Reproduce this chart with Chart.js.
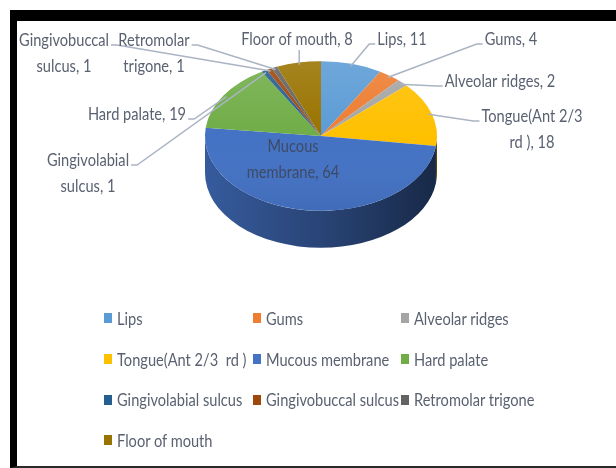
<!DOCTYPE html>
<html>
<head>
<meta charset="utf-8">
<script src="https://cdn.jsdelivr.net/npm/chart.js@4.4.1/dist/chart.umd.min.js"></script>
<style>
  html, body { margin: 0; padding: 0; background: #fff; }
  #wrap { position: relative; width: 616px; height: 468px; overflow: hidden; }
  #frame {
    position: absolute; left: 10px; top: 10px; width: 640px; height: 445px;
    border-left: 7px solid #000; border-top: 11px solid #000; border-bottom: 2px solid #2a2a2a;
  }
  #chart { position: absolute; left: 0; top: 0; }
  #legend {
    position: absolute; left: 104px; top: 298px;
    display: grid; grid-template-columns: 149px 148px 160px; grid-auto-rows: 40.7px;
    font: 17px Lato, sans-serif; color: #5a6170;
  }
  #legend .item { display: flex; align-items: center; white-space: pre; }
  #legend .box { width: 8px; height: 10px; margin-right: 5px; flex: none; }
  #legend .txt { display: inline-block; transform: scaleX(0.86); transform-origin: 0 50%; }
</style>
</head>
<body>
<div id="wrap">
  <div id="frame"></div>
  <canvas id="chart" width="616" height="468"></canvas>
  <div id="legend"></div>
</div>
<script>
var categories = ['Lips', 'Gums', 'Alveolar ridges', 'Tongue(Ant 2/3  rd )', 'Mucous membrane',
  'Hard palate', 'Gingivolabial sulcus', 'Gingivobuccal sulcus', 'Retromolar trigone', 'Floor of mouth'];
var cases = [11, 4, 2, 18, 64, 19, 1, 1, 1, 8];
var sliceColors = ['#5B9BD5', '#ED7D31', '#A5A5A5', '#FFC000', '#4472C4',
  '#70AD47', '#255E91', '#9E480E', '#636363', '#997300'];

// where each data label sits, relative to the pie centre
var labelLayout = [
  { dx: 81, dy: -96, side: 'left' },
  { dx: 190, dy: -96, side: 'left' },
  { dx: 179, dy: -54, side: 'left' },
  { dx: 211, dy: -6, side: 'left', split: 'Tongue(Ant 2/3', text: 'Tongue(Ant 2/3 rd )' },
  { dx: -28, dy: 24, side: 'inside', split: 'Mucous' },
  { dx: -184, dy: -21, side: 'right' },
  { dx: -233, dy: 38, side: 'right', split: 'Gingivolabial' },
  { dx: -257, dy: -82, side: 'right', split: 'Gingivobuccal' },
  { dx: -167, dy: -82, side: 'right', split: 'Retromolar' },
  { dx: -24, dy: -96, side: 'bottom' }
];

var tilt = 0.645, depth = 37;
var font = '17px Lato, sans-serif';
var squeeze = 0.86;

function shade(hex, f) {
  var n = parseInt(hex.slice(1), 16);
  var r = Math.round(((n >> 16) & 255) * f), g = Math.round(((n >> 8) & 255) * f), b = Math.round((n & 255) * f);
  return 'rgb(' + r + ',' + g + ',' + b + ')';
}

var pie3d = {
  id: 'pie3d',
  beforeDatasetsDraw: function(chart) {
    var ctx = chart.ctx, meta = chart.getDatasetMeta(0);
    var cx = meta.data[0].x, cy = meta.data[0].y, R = meta.data[0].outerRadius, ry = R * tilt;
    meta.data.forEach(function(el, i) {
      var a0 = Math.max(el.startAngle, 0), a1 = Math.min(el.endAngle, Math.PI);
      if (a1 <= a0) return;
      var c = chart.data.datasets[0].backgroundColor[i];
      var g = ctx.createLinearGradient(cx - R, 0, cx + R, 0);
      g.addColorStop(0, shade(c, 0.8));
      g.addColorStop(0.5, shade(c, 0.6));
      g.addColorStop(1, shade(c, 0.36));
      ctx.beginPath();
      ctx.ellipse(cx, cy, R, ry, 0, a0, a1);
      ctx.lineTo(cx + R * Math.cos(a1), cy + ry * Math.sin(a1) + depth);
      ctx.ellipse(cx, cy + depth, R, ry, 0, a1, a0, true);
      ctx.closePath();
      ctx.fillStyle = g;
      ctx.fill();
    });
    ctx.save();
    ctx.translate(0, cy);
    ctx.scale(1, tilt);
    ctx.translate(0, -cy);
  },
  afterDatasetsDraw: function(chart) {
    var ctx = chart.ctx, meta = chart.getDatasetMeta(0);
    ctx.restore();
    var cx = meta.data[0].x, cy = meta.data[0].y, R = meta.data[0].outerRadius, ry = R * tilt;
    ctx.save();
    ctx.beginPath();
    ctx.ellipse(cx, cy, R, ry, 0, 0, Math.PI * 2);
    ctx.clip();
    var g = ctx.createLinearGradient(0, cy - ry, 0, cy + ry);
    g.addColorStop(0, 'rgba(255,255,255,0.12)');
    g.addColorStop(0.5, 'rgba(255,255,255,0)');
    g.addColorStop(1, 'rgba(0,0,0,0.06)');
    ctx.fillStyle = g;
    ctx.fillRect(cx - R, cy - ry, 2 * R, 2 * ry);
    ctx.restore();
  },
  afterDraw: function(chart) {
    var ctx = chart.ctx, meta = chart.getDatasetMeta(0);
    var cx = meta.data[0].x, cy = meta.data[0].y, R = meta.data[0].outerRadius, ry = R * tilt;
    var lineH = 26;
    ctx.save();
    ctx.font = font;
    ctx.textAlign = 'center';
    ctx.textBaseline = 'middle';
    meta.data.forEach(function(el, i) {
      var L = labelLayout[i];
      var txt = (L.text || chart.data.labels[i]) + ', ' + chart.data.datasets[0].data[i];
      var lines = [txt];
      if (L.split) lines = [L.split, txt.slice(L.split.length).trim()];
      var lx = cx + L.dx, ly = cy + L.dy;
      var y0 = ly - (lines.length - 1) * lineH / 2;
      var w = squeeze * Math.max.apply(null, lines.map(function(s) { return ctx.measureText(s).width; }));
      if (L.side !== 'inside') {
        var mid = (el.startAngle + el.endAngle) / 2;
        var tx = cx + R * 0.97 * Math.cos(mid), ty = cy + ry * 0.97 * Math.sin(mid);
        ctx.strokeStyle = '#aab4c3';
        ctx.lineWidth = 1.5;
        ctx.beginPath();
        if (L.side === 'bottom') {
          ctx.moveTo(tx, ly + 10);
          ctx.lineTo(tx, ty);
        } else {
          var s = L.side === 'right' ? 1 : -1;
          var ax = lx + s * (w / 2 + 2), ay = y0 + 4;
          ctx.moveTo(ax, ay);
          ctx.lineTo(ax + s * 6, ay);
          ctx.lineTo(tx, ty);
        }
        ctx.stroke();
      }
      ctx.fillStyle = L.side === 'inside' ? '#3e4b66' : '#5a6170';
      lines.forEach(function(s, k) {
        ctx.save();
        ctx.translate(lx, y0 + k * lineH);
        ctx.scale(squeeze, 1);
        ctx.fillText(s, 0, 0);
        ctx.restore();
      });
    });
    ctx.restore();
  }
};

var chart = new Chart(document.getElementById('chart'), {
  type: 'pie',
  data: {
    labels: categories,
    datasets: [{ data: cases, backgroundColor: sliceColors, borderWidth: 0 }]
  },
  options: {
    responsive: false,
    animation: false,
    layout: { padding: { left: 205, right: 179, top: 20, bottom: 216 } },
    plugins: { legend: { display: false }, tooltip: { enabled: false } },
    events: []
  },
  plugins: [pie3d]
});

var legend = document.getElementById('legend');
chart.data.labels.forEach(function(name, i) {
  var item = document.createElement('div');
  item.className = 'item';
  var box = document.createElement('span');
  box.className = 'box';
  box.style.background = chart.data.datasets[0].backgroundColor[i];
  var t = document.createElement('span');
  t.className = 'txt';
  t.textContent = name;
  item.appendChild(box);
  item.appendChild(t);
  legend.appendChild(item);
});
</script>
</body>
</html>
